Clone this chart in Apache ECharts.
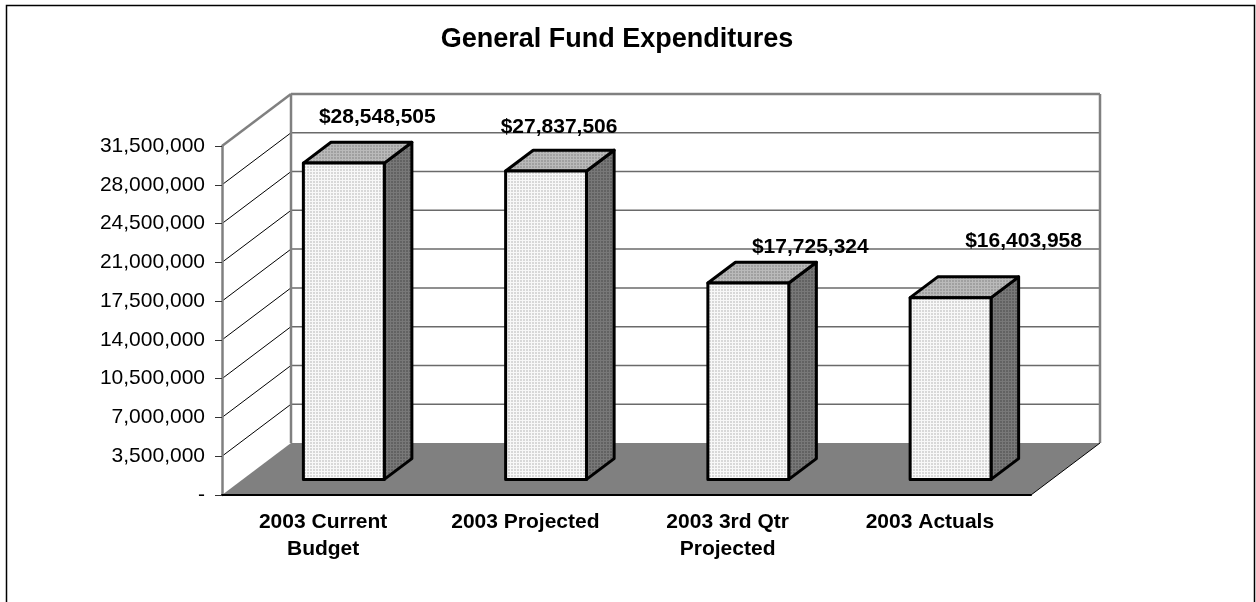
<!DOCTYPE html>
<html>
<head>
<meta charset="utf-8">
<style>html,body{margin:0;padding:0;background:#fff}#chart{width:1256px;height:602px}</style>
<script src="https://cdn.jsdelivr.net/npm/echarts@6/dist/echarts.min.js"></script>
</head>
<body>
<div id="chart"></div>
<script>
// General Fund figures
const categories = ['2003 Current\nBudget', '2003 Projected', '2003 3rd Qtr\nProjected', '2003 Actuals'];
const expenditures = [28548505, 27837506, 17725324, 16403958];
const valueTicks = [0, 3500000, 7000000, 10500000, 14000000, 17500000, 21000000, 24500000, 28000000, 31500000];
const chartTitle = 'General Fund Expenditures';

// Oblique projection of the 3D box: full floor depth in pixels
const DEPTH_X = 69, DEPTH_Y = -52;
const GAP = 0.3, BAR_DEPTH = 0.4, BAR_WIDTH_RATIO = 0.4;
// Hand-placed offsets of the value labels, measured from the bar's top front centre
const labelShift = [[33.5, -46], [13, -44], [62, -36], [73, -56]];

// Woven fills built from a small repeating tile: pale lines around darker cells
function weave(lineColor, cellColor) {
  const c = document.createElement('canvas');
  c.width = c.height = 3;
  const g = c.getContext('2d');
  g.fillStyle = lineColor; g.fillRect(0, 0, 3, 3);
  g.fillStyle = cellColor; g.fillRect(1, 1, 2, 2);
  return { image: c, repeat: 'repeat' };
}
const frontFill = weave('#f8f8f8', '#d8d8d8');
const topFill = weave('#bababa', '#a0a0a0');
const sideFill = weave('#787878', '#626262');

function poly(points, style, z2) {
  return { type: 'polygon', shape: { points }, style, z2 };
}
function line(a, b, stroke, lineWidth, z2) {
  return { type: 'line', shape: { x1: a[0], y1: a[1], x2: b[0], y2: b[1] }, style: { stroke, lineWidth, fill: null }, z2 };
}

// Walls and floor, one group per value tick
function renderWall(params, api) {
  const v = api.value(0);
  const rect = params.coordSys;
  const y = api.coord([0, v])[1];
  const x0 = rect.x, x1 = rect.x + rect.width;
  const back = (x, yy) => [x + DEPTH_X, yy + DEPTH_Y];
  const children = [];
  if (v === 0) {
    children.push(poly([[x0, y], [x1, y], back(x1, y), back(x0, y)], { fill: '#808080' }, 3));
    children.push(line([x1, y], back(x1, y), '#000', 1, 4));
  } else if (v === valueTicks[valueTicks.length - 1]) {
    const yBase = api.coord([0, 0])[1];
    children.push(line(back(x0, y), back(x1, y), '#808080', 2.5, 2));
    children.push(line(back(x0, y), back(x0, yBase), '#808080', 2.5, 2));
    children.push(line(back(x1, y), back(x1, yBase), '#808080', 2.5, 2));
    children.push(line([x0, y], back(x0, y), '#808080', 2.5, 2));
  } else {
    children.push(line(back(x0, y), back(x1, y), '#6a6a6a', 1.5, 1));
    children.push(line([x0, y], back(x0, y), '#000', 1, 1));
  }
  return { type: 'group', children };
}

// One oblique box per category, with its dollar label
function renderBar(params, api) {
  const i = api.value(0), v = api.value(1);
  const base = api.coord([i, 0]);
  const top = api.coord([i, v]);
  const band = api.size([1, 0])[0];
  const half = band * BAR_WIDTH_RATIO / 2;
  const ox = DEPTH_X * GAP, oy = DEPTH_Y * GAP;
  const dx = DEPTH_X * BAR_DEPTH, dy = DEPTH_Y * BAR_DEPTH;
  const l = base[0] - half + ox, r = base[0] + half + ox;
  const b = base[1] + oy, t = top[1] + oy;
  const edge = { stroke: '#000', lineWidth: 3, lineJoin: 'round' };
  const shift = labelShift[i];
  return {
    type: 'group',
    children: [
      poly([[r, t], [r + dx, t + dy], [r + dx, b + dy], [r, b]], Object.assign({ fill: sideFill }, edge)),
      poly([[l, t], [l + dx, t + dy], [r + dx, t + dy], [r, t]], Object.assign({ fill: topFill }, edge)),
      poly([[l, t], [r, t], [r, b], [l, b]], Object.assign({ fill: frontFill }, edge)),
      {
        type: 'text',
        x: (l + r) / 2 + shift[0],
        y: t + shift[1],
        style: {
          text: '$' + v.toLocaleString('en-US'),
          fill: '#000', font: 'bold 21px "Liberation Sans"',
          align: 'center', verticalAlign: 'middle'
        },
        z2: 10
      }
    ]
  };
}

const chart = echarts.init(document.getElementById('chart'), null, { renderer: 'canvas' });
chart.setOption({
  animation: false,
  backgroundColor: '#fff',
  title: {
    text: chartTitle,
    left: 612, top: 21, textAlign: 'center',
    textStyle: { fontFamily: 'Liberation Sans', fontWeight: 'bold', fontSize: 27, color: '#000' }
  },
  graphic: [{
    type: 'rect',
    shape: { x: 6.5, y: 5.5, width: 1248, height: 700 },
    style: { fill: null, stroke: '#000', lineWidth: 1.5 },
    silent: true
  }],
  grid: { left: 222, right: 225, top: 146, bottom: 107 },
  xAxis: {
    type: 'category',
    data: categories,
    z: 6,
    axisLine: { lineStyle: { color: '#000', width: 2 } },
    axisTick: { length: 7, lineStyle: { color: '#000', width: 1 } },
    axisLabel: {
      color: '#000', fontFamily: 'Liberation Sans', fontWeight: 'bold',
      fontSize: 21, lineHeight: 27, margin: 14, interval: 0
    }
  },
  yAxis: {
    type: 'value',
    min: 0, max: 31500000, interval: 3500000,
    z: 6,
    splitLine: { show: false },
    axisLine: { show: true, lineStyle: { color: '#808080', width: 2.5 } },
    axisTick: { show: true, length: 7, lineStyle: { color: '#333', width: 1 } },
    axisLabel: {
      color: '#000', fontFamily: 'Liberation Sans', fontSize: 21, margin: 17,
      formatter: v => v === 0 ? '-' : v.toLocaleString('en-US')
    }
  },
  series: [
    {
      type: 'custom', name: 'Walls', coordinateSystem: 'cartesian2d', clip: false, silent: true,
      z: 1, renderItem: renderWall,
      encode: { y: 0 },
      data: valueTicks.map(v => [v])
    },
    {
      type: 'custom', name: 'Expenditures', coordinateSystem: 'cartesian2d', clip: false,
      z: 2, renderItem: renderBar,
      encode: { x: 0, y: 1 },
      data: expenditures.map((v, i) => [i, v])
    }
  ]
});
</script>
</body>
</html>
